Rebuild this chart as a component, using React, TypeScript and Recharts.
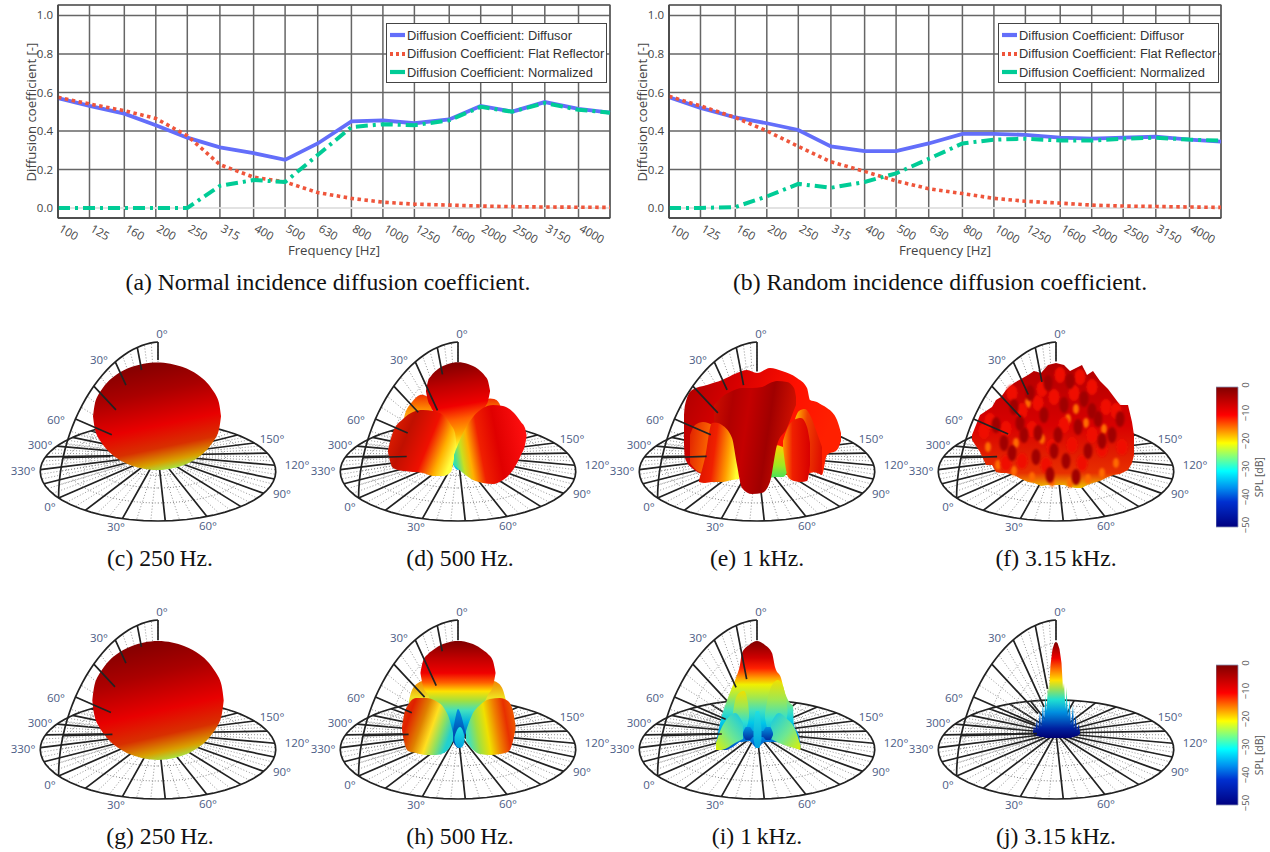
import React from "react";
import {
  Area,
  Bar,
  BarChart,
  CartesianGrid,
  ComposedChart,
  Legend,
  Line,
  LineChart,
  ReferenceArea,
  ReferenceDot,
  ReferenceLine,
  Scatter,
  XAxis,
  YAxis,
  ZAxis,
} from "recharts";

// ---- diffusion coefficient curves
const freqs = [100, 125, 160, 200, 250, 315, 400, 500, 630, 800, 1000, 1250, 1600, 2000, 2500, 3150, 4000, 5000];
const normalDiffusor = [0.57, 0.53, 0.49, 0.43, 0.365, 0.315, 0.285, 0.25, 0.335, 0.45, 0.455, 0.44, 0.46, 0.53, 0.5, 0.55, 0.515, 0.495];
const normalFlat = [0.575, 0.54, 0.505, 0.465, 0.375, 0.225, 0.16, 0.135, 0.08, 0.05, 0.03, 0.02, 0.015, 0.01, 0.007, 0.005, 0.004, 0.003];
const normalNormalized = [0, 0, 0, 0, 0, 0.115, 0.145, 0.135, 0.275, 0.42, 0.435, 0.43, 0.455, 0.525, 0.5, 0.545, 0.51, 0.495];
const randomDiffusor = [0.575, 0.52, 0.47, 0.44, 0.405, 0.32, 0.295, 0.295, 0.335, 0.385, 0.385, 0.38, 0.365, 0.36, 0.365, 0.37, 0.355, 0.345];
const randomFlat = [0.58, 0.53, 0.47, 0.4, 0.32, 0.24, 0.19, 0.14, 0.1, 0.075, 0.05, 0.035, 0.025, 0.015, 0.01, 0.008, 0.005, 0.003];
const randomNormalized = [0, 0, 0.005, 0.06, 0.125, 0.105, 0.135, 0.18, 0.255, 0.335, 0.355, 0.36, 0.35, 0.35, 0.36, 0.365, 0.355, 0.35];
const yTicks = [0, 0.2, 0.4, 0.6, 0.8, 1];
const seriesNames = ["Diffusion Coefficient: Diffusor", "Diffusion Coefficient: Flat Reflector", "Diffusion Coefficient: Normalized"];

// ---- polar grid angles and radii
const floorSpokes = [2.5, 17.5, 32.5, 47.5, 62.5, 77.5, 92.5, 107.5, 122.5, 137.5, 152.5, 167.5, 182.5, 197.5, 212.5, 227.5, 242.5, 257.5, 272.5, 287.5, 302.5, 317.5, 332.5, 347.5];
const wallElevations = [0, 15, 30, 45, 60, 75];
const ringRadii = [0.2, 0.4, 0.6, 0.8];
const outerLabels = [
  ["0°", 4, 121], ["30°", -59, 95], ["60°", -102, 35], ["300°", -118, 10], ["330°", -135, -16],
  ["0°", -108, -52], ["30°", -42, -72], ["60°", 50, -71], ["90°", 124, -39], ["120°", 139, -10], ["150°", 114, 16],
];

// ---- balloon outlines: [x, low, high]
const cSphere = [[-65, 38.7, 38.8], [-63, 25.5, 52], [-59, 16, 61.5], [-51, 5.3, 72.3], [-41, -3.2, 80.7], [-26, -10.7, 88.2], [-1, -15, 92.5], [24, -10.7, 88.2], [39, -3.2, 80.7], [49, 5.3, 72.3], [57, 16, 61.5], [61, 25.5, 52], [63, 38.7, 38.8]];
const gSphere = [[-65.7, 32.4, 32.6], [-63.6, 17.6, 47.4], [-59.5, 7.3, 57.7], [-51, -5, 70], [-41, -14, 79], [-26, -22.1, 87.1], [0, -27, 92], [26, -22.1, 87.1], [41, -14, 79], [51, -5, 70], [59.5, 7.3, 57.7], [63.6, 17.6, 47.4], [65.7, 32.4, 32.6]];

const dTop = [[-32, 63.5, 64.5], [-30, 54, 74], [-27, 48, 79], [-20, 30, 86], [-10, 2, 91], [0, -15, 92.7], [10, 2, 91], [20, 30, 86], [27, 48, 79], [30, 54, 74], [32, 63.5, 64.5]];
const dBackLeft = [[-55, 30, 32], [-52, 30, 44], [-46, 30, 53], [-38, 30, 60], [-30, 30, 58], [-26, 30, 54]];
const dBackRight = [[18, 30, 52], [28, 30, 56], [36, 30, 56], [42, 30, 50], [46, 30, 32]];
const dFront1 = [[-70, 3, 5], [-68, -6, 13], [-65, -13, 23], [-55, -16, 36], [-45, -17, 43], [-35, -18, 45], [-25, -21, 44], [-15, -21, 40], [-7, -17, 30], [-3, 3, 22], [-2, 10, 14]];
const dFront2 = [[-4, -10, 0], [5, -18, 22], [15, -25, 38], [25, -28, 47], [35, -29, 50], [45, -25, 49], [55, -15, 43], [63, 0, 33], [67, 10, 27], [68.5, 18, 20]];

const hTop = [[-37.5, 59.5, 60.5], [-35, 47, 72], [-30, 38, 79], [-25, 28, 83], [-20, 20, 86.5], [-10, 5, 90.5], [-3, -12, 92], [0, -15, 92], [3, -12, 92], [10, 5, 90.5], [20, 20, 86.5], [25, 28, 83], [30, 38, 79], [35, 47, 72], [37.5, 59.5, 60.5]];
const hBackLeft = [[-49, 30, 32], [-46, 24, 43], [-40, 20, 50], [-32, 18, 53], [-26, 18, 52]];
const hBackRight = [[26, 18, 52], [32, 18, 53], [40, 20, 50], [45, 24, 43], [48, 30, 32]];
const hFront1 = [[-56, 3, 6], [-54, -8, 18], [-50, -18, 28], [-42, -20, 35], [-32, -22, 35], [-22, -22, 32], [-14, -20, 25], [-8, -14, 12], [-5, -8, 0]];
const hFront2 = [[8, -8, 2], [14, -16, 18], [22, -21, 28], [32, -22, 34], [42, -21, 35], [50, -19, 32], [55, -8, 22], [57.5, 4, 8]];
const hCore = [[-5, 0, 2], [-2, -10, 18], [0, -12, 24], [3, -10, 18], [7, 0, 2]];
const hPill = [[-3.5, -8, -4], [-1, -14, 3], [2, -15, 6], [5, -13, 2], [6.5, -8, -4]];

const eBack = [[-73, 10, 40], [-72, -3, 50], [-65, -13, 65], [-50, -20, 70], [-35, -20, 75], [-20, -20, 82], [-10, -20, 85], [0, -20, 82], [13, -20, 87], [25, -20, 84], [40, -20, 77], [50, -20, 67], [53, -18, 55], [60, -17, 53], [65, -20, 50], [70, 0, 47], [80, 5, 35], [84, 14, 22]];
const eRightGlow = [[38, -10, 36], [42, -14, 44], [48, -14, 46], [54, -16, 38], [60, -18, 22], [65, -20, 8]];
const eLeftBack = [[-67, -8, 20], [-62, -14, 30], [-54, -18, 33], [-44, -18, 30]];
const eGap = [[10, -24, 8], [18, -22, 10], [26, -22, 8], [30, -18, 6]];
const eLeftFront = [[-58, -27, -25], [-52, -28, -3], [-45, -27, 32], [-35, -27, 33], [-25, -25, 27], [-18, -24, 7]];
const eCenter = [[-43, 33, 50], [-35, 30, 58], [-25, 17, 64], [-20, -10, 66], [-15, -33, 67], [-5, -39, 67], [5, -38, 68], [13, -27, 72], [20, 10, 74], [30, 27, 73], [37, 45, 67], [39, 50, 58]];
const eRight = [[26, 8, 14], [31, -22, 28], [37, -26, 35], [44, -27, 37], [50, -26, 28], [53, -10, 12]];

const fOutline = [[-84, 15, 20], [-76, 3, 40], [-70, -10, 44], [-64, -10, 48], [-60, -17, 55], [-55, -18, 58], [-50, -18, 65], [-42, -20, 72], [-35, -24, 76], [-28, -27, 80], [-22, -28, 84], [-15, -31, 82], [-8, -30, 90], [0, -30, 92], [8, -30, 90], [14, -32, 84], [20, -33, 87], [26, -33, 90], [31, -30, 80], [37, -28, 84], [44, -26, 74], [52, -22, 66], [58, -20, 58], [64, -19, 50], [72, -15, 50], [76, -8, 33], [78, 0, 20]];
const fDark = [[-60, 30], [-42, 48], [-26, 62], [-8, 72], [14, 74], [-32, 20], [-12, 40], [8, 50], [28, 56], [-20, -2], [2, 20], [22, 28], [42, 36], [-44, 2], [10, -6], [32, 4], [56, 20], [-6, -20], [20, -22], [64, 36], [-52, 12], [-18, 22], [36, 44], [-36, 32], [-2, 4], [46, 14]];
const fRed = [[-72, 24], [-50, 26], [-34, 44], [-18, 52], [-2, 58], [18, 62], [36, 68], [-24, 26], [-4, 8], [16, 10], [36, 20], [50, 48], [-34, -6], [-10, -10], [26, -8], [46, 6], [66, 8], [-50, -8], [-66, 34], [8, 30], [-14, 66], [4, 80], [24, 78], [60, 44], [-44, 62]];
const fOrange = [[-68, 8], [-40, 12], [-14, 16], [12, 36], [30, 32], [48, 26], [-24, -22], [-4, -27], [14, -28], [32, -24], [46, -18], [60, -8], [-42, -16], [-58, -10], [-28, 52], [20, 46]];

const iBase = [[-41, -17, -10], [-36, -17, 14], [-31, -17, 30], [-28, -16, 38], [-24, -14, 48], [-20, -11, 58], [-17, -9, 68], [-15, -9, 80], [-8, -8, 88], [0, -15, 92], [8, -9, 88], [15, -9, 80], [18, -9, 66], [24, -10, 55], [28, -12, 40], [33, -12, 30], [36, -14, 27], [37, -14, 8], [42, -15, -3], [43.5, -17, -12]];
const iLeftTip = [[-41, -17, -10], [-36, -17, 4], [-30, -15, 14], [-22, -10, 20], [-14, -6, 10]];
const iRightTip = [[14, -6, 10], [22, -10, 20], [30, -13, 14], [37, -15, 6], [43.5, -17, -12]];
const iInnerLeft = [[-25, 10, 14], [-22, 0, 32], [-18, -2, 40], [-13, 2, 42], [-9, 10, 30], [-8, 16, 20]];
const iInnerRight = [[8, 15, 20], [11, 2, 36], [15, -3, 48], [21, -3, 53], [26, 2, 47], [29, 10, 34], [30.5, 20, 24]];
const iPetals = [[-14, -2, 0], [-11, -7, 6], [-7, -7, 6], [-4, -4, 2], [6, -4, 2], [9, -7, 6], [13, -7, 6], [16, -2, 0]];
const iPill = [[-3.5, -6, 4], [-1, -15, 22], [2, -15, 22], [4.5, -6, 4]];

const jOutline = [[-23, 0, 1], [-22, -2, 8], [-21, -2, 2], [-19, -3, 14], [-18, -3, 3], [-16, -4, 22], [-15, -4, 6], [-13, -4, 30], [-12, -4, 12], [-10.5, -5, 38], [-9.5, -5, 22], [-8, -5, 48], [-7, -5, 40], [-5.5, -5, 68], [-3.5, -5, 84], [-1.5, -5, 90], [0, -5, 91], [1.5, -5, 90], [3.5, -5, 84], [5.5, -5, 70], [7, -5, 44], [8, -5, 50], [9.5, -5, 24], [10.5, -5, 46], [12, -5, 16], [13.5, -5, 34], [15, -5, 8], [17, -4, 28], [18, -4, 3], [19.5, -3, 18], [21, -3, 2], [22.5, -2, 9], [24, -1, 1]];

// how far each wall spoke stays visible before it meets the balloon
const reachC = [0.84, 0.79, 0.75, 0.655, 0.56, 0.5];
const reachD = [0.82, 0.75, 0.48, 0.62, 0.61, 0.54];
const reachE = [0.74, 0.65, 0.7, 0.61, 0.56, 0.53];
const reachF = [0.83, 0.68, 0.65, 0.55, 0.58, 0.62];
const reachG = [0.82, 0.8, 0.75, 0.67, 0.57, 0.48];
const reachH = [0.82, 0.76, 0.51, 0.52, 0.56, 0.52];
const reachI = [0.82, 0.5, 0.49, 0.47, 0.38, 0.37];
const reachJ = [0.82, 0.41, 0.28, 0.28, 0.25, 0.2];

// colorbar
const splTicks = [0, -10, -20, -30, -40, -50];
const splRange = [{ name: "SPL", range: [-50, 0] }];

// ---- styling
const SHADES: Record<string, any> = {
  sphere: { dir: [0.3, 0, 0.55, 1], curve: "natural", stops: [[0, "#7f0000"], [0.3, "#aa0000"], [0.6, "#e80000"], [0.8, "#d83000"], [0.93, "#d8a000"], [1, "#a8e040"]] },
  red: { dir: [0, 0, 1, 0.3], stops: [[0, "#a80000"], [0.35, "#d80000"], [0.7, "#ff1000"], [1, "#ff2000"]] },
  dCone: { dir: [0.45, 0, 0.55, 1], stops: [[0, "#800000"], [0.21, "#c00000"], [0.4, "#f00000"], [0.53, "#ff6000"], [0.67, "#ffb000"], [0.78, "#ffff30"], [0.86, "#80f080"], [0.93, "#00e0f0"], [1, "#00b0f0"]] },
  hCone: { dir: [0.5, 0, 0.5, 1], stops: [[0, "#800000"], [0.16, "#c00000"], [0.3, "#f00000"], [0.39, "#ff6000"], [0.47, "#ffe000"], [0.56, "#a0e040"], [0.65, "#40e0c0"], [0.76, "#00b0e0"], [0.88, "#0060c0"], [1, "#003090"]] },
  amber: { dir: [0.5, 0, 0.5, 1], curve: "natural", stops: [[0, "#f03000"], [0.5, "#ff9000"], [1, "#ffd040"]] },
  amberSoft: { dir: [0.5, 0, 0.5, 1], curve: "natural", stops: [[0, "#f08000"], [0.5, "#f0e020"], [1, "#90e060"]] },
  frontLeft: { dir: [0, 0.2, 1, 0.6], stops: [[0, "#e82000"], [0.3, "#c01000"], [0.62, "#f01000"], [0.84, "#ffb000"], [1, "#ffff40"]] },
  frontRight: { dir: [0, 0.6, 1, 0.4], stops: [[0, "#40e0a0"], [0.1, "#c8e020"], [0.2, "#ffb000"], [0.36, "#f02000"], [0.6, "#e00000"], [1, "#ff1010"]] },
  hLeft: { dir: [0, 0.1, 1, 0.5], stops: [[0, "#e04000"], [0.2, "#e02000"], [0.45, "#e08000"], [0.65, "#ffe020"], [0.82, "#90e060"], [1, "#20d0d0"]] },
  hRight: { dir: [0, 0.5, 1, 0.3], stops: [[0, "#40e0c0"], [0.2, "#a0e040"], [0.4, "#f0e000"], [0.6, "#f08000"], [0.8, "#e83000"], [1, "#f06000"]] },
  navy: { dir: [0.5, 0, 0.5, 1], stops: [[0, "#0090e0"], [1, "#0030a0"]] },
  cyan: { dir: [0.5, 0, 0.5, 1], stops: [[0, "#20e0e0"], [1, "#00a0e0"]] },
  orange: { dir: [0, 0, 1, 0.3], stops: [[0, "#e02000"], [1, "#ff7000"]] },
  yellowRight: { dir: [0, 0.3, 1, 0.5], stops: [[0, "#d81000"], [0.4, "#f02000"], [0.75, "#ffa000"], [1, "#ffff30"]] },
  glow: { dir: [0, 0.3, 1, 0.5], stops: [[0, "#ffb000"], [0.4, "#f04000"], [1, "#e01000"]] },
  lime: { dir: [0.5, 0, 0.5, 1], stops: [[0, "#ffd000"], [0.6, "#a0e820"], [1, "#40e060"]] },
  redColumn: { dir: [0, 0, 1, 0.2], stops: [[0, "#d01000"], [0.25, "#b00000"], [0.45, "#c40000"], [0.72, "#a00000"], [1, "#d01000"]] },
  redRight: { dir: [0, 0, 1, 0], stops: [[0, "#ff9000"], [0.35, "#f02000"], [1, "#d80000"]] },
  rough: { dir: [0.5, 0, 0.5, 1], stops: [[0, "#b00000"], [0.5, "#d80000"], [0.88, "#e83000"], [1, "#f0c000"]], curve: "linear" },
  iJet: { dir: [0.5, 0, 0.5, 1], stops: [[0, "#800000"], [0.155, "#d00000"], [0.25, "#ff2000"], [0.34, "#ffa000"], [0.4, "#f0f000"], [0.52, "#a0e850"], [0.64, "#40e0c0"], [0.75, "#00c8e8"], [0.89, "#0080e0"], [1, "#0050c0"]] },
  innerLobe: { dir: [0.5, 0, 0.5, 1], stops: [[0, "#f0e000"], [0.35, "#a0e850"], [0.7, "#30e0d0"], [1, "#00b0e8"]] },
  tipLeft: { dir: [0, 1, 1, 0], stops: [[0, "#e0f000"], [0.45, "#70e890"], [1, "#10c8e8"]] },
  tipRight: { dir: [1, 1, 0, 0], stops: [[0, "#e0f000"], [0.45, "#70e890"], [1, "#10c8e8"]] },
  jJet: { dir: [0.5, 0, 0.5, 1], stops: [[0, "#800000"], [0.17, "#f00000"], [0.3, "#ff8000"], [0.4, "#ffe000"], [0.5, "#90e060"], [0.6, "#20e0d0"], [0.73, "#0090e0"], [0.9, "#0020a0"], [1, "#000070"]], curve: "linear" },
};

const A = 111;
const B = 44;
const C = 113;
const K = 1 / 3;
const WALL_AZIMUTH = -42.5;
const rad = (d: number) => (d * Math.PI) / 180;
const project = (u: number, v: number, z: number) => {
  const w = 1 - K * v;
  return { x: (A * u) / w, y: (C * z - B * v) / w };
};
const floorPoint = (phi: number, r: number) => project(r * Math.sin(rad(phi)), r * Math.cos(rad(phi)), 0);
const wallPoint = (theta: number, r: number) =>
  project(r * Math.sin(rad(theta)) * Math.sin(rad(WALL_AZIMUTH)), r * Math.sin(rad(theta)) * Math.cos(rad(WALL_AZIMUTH)), r * Math.cos(rad(theta)));
const gap = (p: { x: number }) => ({ x: p.x, y: null });

const joinPaths = (paths: { x: number; y: number }[][]) => paths.flatMap((p) => [...p, gap(p[p.length - 1])]);
const steps = (from: number, to: number, step: number) => {
  const out: number[] = [];
  for (let a = from; a <= to + 1e-6; a += step) out.push(a);
  return out;
};
const HUB = { x: 0, y: 0 };

const floorMajor = joinPaths(floorSpokes.map((a) => [HUB, floorPoint(a, 1)]));
const floorMinor = joinPaths(steps(2.5, 357.5, 5).map((a) => [HUB, floorPoint(a, 1)]));
const floorRim = steps(0, 360, 5).map((a) => floorPoint(a, 1));
const floorRings = joinPaths(ringRadii.map((r) => steps(0, 360, 6).map((a) => floorPoint(a, r))));
const wallArc = steps(0, 90, 3).map((t) => wallPoint(t, 1));
const wallMinor = joinPaths(steps(0, 85, 5).map((t) => [wallPoint(t, 0.4), wallPoint(t, 1)]));
const wallRings = joinPaths(ringRadii.map((r) => steps(0, 90, 5).map((t) => wallPoint(t, r))));

const wallSpokes = (reach: number[]) =>
  joinPaths(
    wallElevations.map((t, i) => {
      const rim = wallPoint(t, 1);
      return [{ x: rim.x * reach[i], y: rim.y * reach[i] }, rim];
    })
  );

const toXY = (rows: number[][]) => rows.map(([x, y]) => ({ x, y }));
const toRange = (rows: number[][]) => rows.map(([x, lo, hi]) => ({ x, range: [lo, hi] }));

const SANS = "'Open Sans', sans-serif";
const TICK = "#444";
const POLAR_TICK = "#4c5c85";
const COLORBAR_STOPS = [[0, "#800000"], [0.2, "#ff0000"], [0.3, "#ff8000"], [0.4, "#ffff00"], [0.5, "#80ff80"], [0.6, "#00ffff"], [0.72, "#0090f0"], [0.82, "#0030d0"], [1, "#000080"]];

const plain = { isAnimationActive: false, dot: false, activeDot: false, legendType: "none" as const };

function FreqTick({ x, y, payload }: any) {
  if (payload.value === 5000) return null;
  return (
    <text x={x} y={y + 5} transform={`rotate(30 ${x} ${y + 5})`} fontFamily={SANS} fontSize={11.5} fill={TICK} textAnchor="start">
      {payload.value}
    </text>
  );
}

function CurveLegend() {
  const swatches = [
    { color: "#636efa", dash: undefined },
    { color: "#EF553B", dash: "3 3" },
    { color: "#00CC96", dash: undefined },
  ];
  return (
    <div style={{ width: 221, height: 60, boxSizing: "border-box", border: "1px solid #444", background: "#fff", padding: "2px 0 0 2px" }}>
      {seriesNames.map((name, i) => (
        <div key={name} style={{ display: "flex", alignItems: "center", height: 18.5, whiteSpace: "nowrap" }}>
          <svg width={18} height={6}>
            <line x1={1} x2={16} y1={3} y2={3} stroke={swatches[i].color} strokeWidth={4.2} strokeDasharray={swatches[i].dash} />
          </svg>
          <span style={{ fontFamily: "'Liberation Sans', sans-serif", fontSize: 12.85, color: "#333" }}>{name}</span>
        </div>
      ))}
    </div>
  );
}

function CoefficientChart({ left, diffusor, flat, normalized, legendLeft }: any) {
  const data = freqs.map((f, i) => ({ f, diffusor: diffusor[i], flat: flat[i], normalized: normalized[i] }));
  return (
    <div style={{ position: "absolute", left, top: 0 }}>
      <LineChart width={630} height={270} data={data} margin={{ top: 5, right: 20, bottom: 0, left: 0 }}>
        <CartesianGrid stroke="#666" strokeWidth={1.5} />
        <XAxis
          dataKey="f"
          type="number"
          scale="log"
          domain={[100, 5000]}
          ticks={freqs}
          interval={0}
          height={52}
          tick={<FreqTick />}
          tickLine={false}
          axisLine={{ stroke: "#444", strokeWidth: 1.5 }}
          label={{ value: "Frequency [Hz]", position: "insideBottom", offset: 15, fontFamily: SANS, fontSize: 13.2, fill: TICK }}
        />
        <YAxis
          type="number"
          domain={[-0.052, 1.054]}
          ticks={yTicks}
          allowDataOverflow
          width={58}
          tickSize={3}
          tickFormatter={(v) => v.toFixed(1)}
          tick={{ fontFamily: SANS, fontSize: 11.5, fill: TICK }}
          tickLine={false}
          axisLine={{ stroke: "#444", strokeWidth: 1.5 }}
          label={{ value: "Diffusion coefficient [-]", angle: -90, position: "insideLeft", offset: 31, dy: 70, fontFamily: SANS, fontSize: 13.2, fill: TICK }}
        />
        <ReferenceLine y={0} stroke="#fff" strokeWidth={1.5} />
        <ReferenceArea x1={100} x2={5000} y1={-0.052} y2={1.054} fill="none" stroke="#555" strokeWidth={1.2} />
        <Line dataKey="diffusor" stroke="#636efa" strokeWidth={3.8} {...plain} />
        <Line dataKey="flat" stroke="#EF553B" strokeWidth={3.6} strokeDasharray="3.5 3.5" {...plain} />
        <Line dataKey="normalized" stroke="#00CC96" strokeWidth={4} strokeDasharray="12 5 3 5" {...plain} />
        <Legend layout="vertical" align="center" verticalAlign="middle" content={<CurveLegend />} wrapperStyle={{ left: legendLeft, top: 23, width: 221 }} />
      </LineChart>
    </div>
  );
}

function FacetShape({ cx, cy, fill, rx, ry }: any) {
  return <ellipse cx={cx} cy={cy} rx={rx} ry={ry} fill={fill} filter="url(#soft-facet)" />;
}

function BalloonPanel({ id, hubX, hubY, lobes, reach, facets }: any) {
  return (
    <div style={{ position: "absolute", left: hubX - 160, top: hubY - 145 }}>
      <ComposedChart width={330} height={240} margin={{ top: 0, right: 0, bottom: 0, left: 0 }}>
        <defs>
          <filter id="soft-facet" x="-50%" y="-50%" width="200%" height="200%">
            <feGaussianBlur stdDeviation={1} />
          </filter>
          {lobes.map((lobe: any, i: number) => {
            const s = SHADES[lobe.shade];
            return (
              <linearGradient key={i} id={`${id}-${i}`} x1={s.dir[0]} y1={s.dir[1]} x2={s.dir[2]} y2={s.dir[3]}>
                {s.stops.map(([o, c]: any) => <stop key={o} offset={o} stopColor={c} />)}
              </linearGradient>
            );
          })}
        </defs>
        <XAxis hide dataKey="x" type="number" domain={[-160, 170]} allowDataOverflow />
        <YAxis hide dataKey="y" type="number" domain={[-95, 145]} allowDataOverflow />
        <ZAxis range={[150, 150]} />
        <Line zIndex={10} data={floorRings} dataKey="y" stroke="#777" strokeWidth={0.9} strokeDasharray="1 2" {...plain} />
        <Line zIndex={11} data={floorMinor} dataKey="y" stroke="#888" strokeWidth={0.9} strokeDasharray="1 2" {...plain} />
        <Line zIndex={12} data={floorMajor} dataKey="y" stroke="#222" strokeWidth={1.7} {...plain} />
        <Line zIndex={13} data={floorRim} dataKey="y" stroke="#222" strokeWidth={1.7} {...plain} />
        <Line zIndex={14} data={wallMinor} dataKey="y" stroke="#888" strokeWidth={0.9} strokeDasharray="1 2" {...plain} />
        <Line zIndex={15} data={wallRings} dataKey="y" stroke="#888" strokeWidth={0.9} strokeDasharray="1 2" {...plain} />
        {lobes.map((lobe: any, i: number) => (
          <Area
            key={i}
            zIndex={100 + i}
            data={toRange(lobe.outline)}
            dataKey="range"
            type={SHADES[lobe.shade].curve ?? "monotone"}
            stroke="none"
            fill={`url(#${id}-${i})`}
            fillOpacity={1}
            {...plain}
          />
        ))}
        {facets?.map((f: any, i: number) => (
          <Scatter
            key={i}
            zIndex={200 + i}
            data={toXY(f.points)}
            fill={f.color}
            shape={<FacetShape rx={f.rx} ry={f.ry} />}
            isAnimationActive={false}
            legendType="none"
          />
        ))}
        <Line zIndex={400} data={wallSpokes(reach)} dataKey="y" stroke="#222" strokeWidth={1.7} {...plain} />
        <Line zIndex={401} data={wallArc} dataKey="y" stroke="#222" strokeWidth={1.7} {...plain} />
        {outerLabels.map(([text, x, y]: any, i) => (
          <ReferenceDot
            key={i}
            x={x}
            y={y}
            r={0}
            fill="none"
            stroke="none"
            label={{ value: text, position: "center", fontFamily: SANS, fontSize: 11.5, fill: POLAR_TICK }}
          />
        ))}
      </ComposedChart>
    </div>
  );
}

function SplTick({ x, y, payload }: any) {
  const text = payload.value === 0 ? "0" : `\u2212${Math.abs(payload.value)}`;
  return (
    <text x={x + 3} y={y - 2} transform={`rotate(-90 ${x + 3} ${y - 2})`} fontFamily={SANS} fontSize={9.5} fill="#555" textAnchor="middle">
      {text}
    </text>
  );
}

function Colorbar({ id, top }: any) {
  return (
    <div style={{ position: "absolute", left: 1216, top: top - 10 }}>
      <BarChart width={54} height={160} data={splRange} margin={{ top: 10, right: 0, bottom: 10, left: 0 }} barCategoryGap={0}>
        <defs>
          <linearGradient id={id} x1={0} y1={0} x2={0} y2={1}>
            {COLORBAR_STOPS.map(([o, c]: any) => <stop key={o} offset={o} stopColor={c} />)}
          </linearGradient>
        </defs>
        <XAxis hide dataKey="name" />
        <YAxis
          orientation="right"
          type="number"
          domain={[-50, 0]}
          ticks={splTicks}
          width={32}
          tick={<SplTick />}
          tickLine={false}
          axisLine={false}
          label={{ value: "SPL [dB]", angle: -90, position: "insideRight", offset: 11, fontFamily: SANS, fontSize: 10.5, fill: "#555" }}
        />
        <Bar dataKey="range" fill={`url(#${id})`} stroke="#8a94b8" strokeWidth={0.8} isAnimationActive={false} />
      </BarChart>
    </div>
  );
}

const captions = [
  ["(a) Normal incidence diffusion coefficient.", 328, 269],
  ["(b) Random incidence diffusion coefficient.", 940, 269],
  ["(c) 250\u2009Hz.", 160, 545],
  ["(d) 500\u2009Hz.", 460, 545],
  ["(e) 1\u2009kHz.", 757, 545],
  ["(f) 3.15\u2009kHz.", 1056, 545],
  ["(g) 250\u2009Hz.", 160, 823],
  ["(h) 500\u2009Hz.", 460, 823],
  ["(i) 1\u2009kHz.", 757, 823],
  ["(j) 3.15\u2009kHz.", 1056, 823],
];

const panels = [
  { id: "c", hubX: 158, hubY: 455, reach: reachC, lobes: [{ outline: cSphere, shade: "sphere" }] },
  {
    id: "d", hubX: 458, hubY: 455, reach: reachD,
    lobes: [
      { outline: dBackLeft, shade: "amber" },
      { outline: dBackRight, shade: "amber" },
      { outline: dTop, shade: "dCone" },
      { outline: dFront1, shade: "frontLeft" },
      { outline: dFront2, shade: "frontRight" },
    ],
  },
  {
    id: "e", hubX: 757, hubY: 455, reach: reachE,
    lobes: [
      { outline: eBack, shade: "red" },
      { outline: eRightGlow, shade: "glow" },
      { outline: eLeftBack, shade: "orange" },
      { outline: eGap, shade: "lime" },
      { outline: eLeftFront, shade: "yellowRight" },
      { outline: eCenter, shade: "redColumn" },
      { outline: eRight, shade: "redRight" },
    ],
  },
  {
    id: "f", hubX: 1056, hubY: 455, reach: reachF,
    lobes: [{ outline: fOutline, shade: "rough" }],
    facets: [
      { points: fOrange, color: "#ff6a00", rx: 3, ry: 5 },
      { points: fRed, color: "#f01000", rx: 5.5, ry: 8 },
      { points: fDark, color: "#a00000", rx: 4.5, ry: 8 },
    ],
  },
  { id: "g", hubX: 158, hubY: 733, reach: reachG, lobes: [{ outline: gSphere, shade: "sphere" }] },
  {
    id: "h", hubX: 458, hubY: 733, reach: reachH,
    lobes: [
      { outline: hBackLeft, shade: "amberSoft" },
      { outline: hBackRight, shade: "amberSoft" },
      { outline: hTop, shade: "hCone" },
      { outline: hCore, shade: "navy" },
      { outline: hFront1, shade: "hLeft" },
      { outline: hFront2, shade: "hRight" },
      { outline: hPill, shade: "cyan" },
    ],
  },
  {
    id: "i", hubX: 757, hubY: 733, reach: reachI,
    lobes: [
      { outline: iBase, shade: "iJet" },
      { outline: iInnerLeft, shade: "innerLobe" },
      { outline: iInnerRight, shade: "innerLobe" },
      { outline: iLeftTip, shade: "tipLeft" },
      { outline: iRightTip, shade: "tipRight" },
      { outline: iPetals, shade: "navy" },
      { outline: iPill, shade: "cyan" },
    ],
  },
  { id: "j", hubX: 1056, hubY: 733, reach: reachJ, lobes: [{ outline: jOutline, shade: "jJet" }] },
];

export default function App() {
  return (
    <div style={{ position: "absolute", left: 0, top: 0, width: 1270, height: 852, background: "#fff", overflow: "hidden" }}>
      <CoefficientChart left={0} diffusor={normalDiffusor} flat={normalFlat} normalized={normalNormalized} legendLeft={386} />
      <CoefficientChart left={611} diffusor={randomDiffusor} flat={randomFlat} normalized={randomNormalized} legendLeft={387} />
      {panels.map((p) => <BalloonPanel key={p.id} {...p} />)}
      <Colorbar id="bar-top" top={387} />
      <Colorbar id="bar-bottom" top={665} />
      {captions.map(([text, cx, top]: any) => (
        <div
          key={text}
          style={{ position: "absolute", left: cx - 300, top, width: 600, textAlign: "center", fontFamily: "'Liberation Serif', serif", fontSize: 23.7, color: "#111" }}
        >
          {text}
        </div>
      ))}
    </div>
  );
}
